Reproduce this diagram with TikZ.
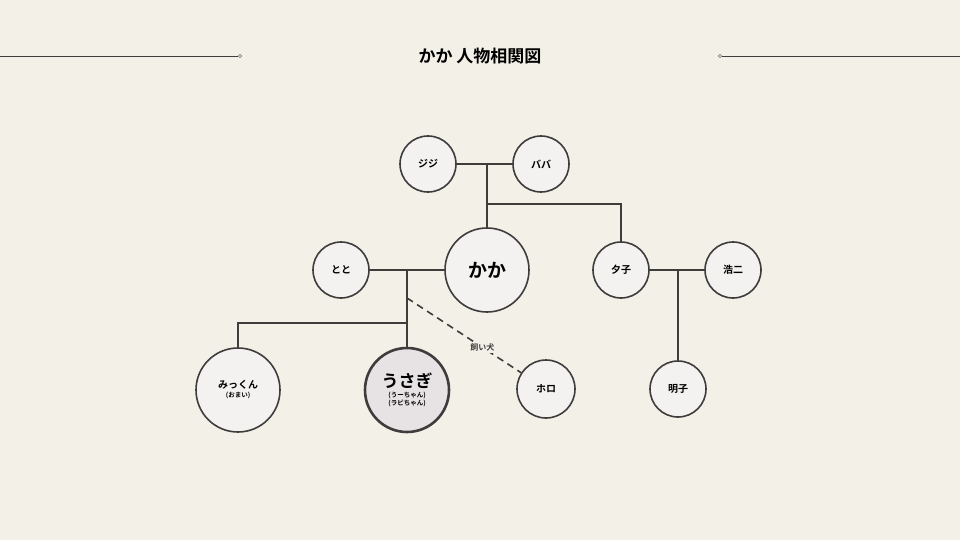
\documentclass[tikz,border=0pt]{standalone}
\usepackage{fontspec}
\setmainfont{Noto Sans CJK JP}[BoldFont={Noto Sans CJK JP Bold}]
\definecolor{bg}{HTML}{F3F0E8}
\definecolor{ln}{HTML}{3F3D3C}
\definecolor{nf}{HTML}{F4F2F1}
\definecolor{hf}{HTML}{E7E3E4}
\begin{document}
\begin{tikzpicture}[x=1pt,y=-1pt,
  p/.style={circle,draw=ln,line width=1.6pt,fill=nf,inner sep=0pt,font=\bfseries\fontsize{10}{12}\selectfont,align=center},
  c/.style={draw=ln,line width=2pt}]
\fill[bg] (0,0) rectangle (960,540);
\useasboundingbox (0,0) rectangle (960,540);
\node[font=\bfseries\fontsize{17}{20}\selectfont] (title) at (480,56) {かか 人物相関図};
\coordinate (l0) at (0,56); \node[circle,draw=ln,inner sep=1.2pt,fill=bg] (l1) at (240,56) {};
\draw[ln,line width=0.8pt] (l0) -- (l1);
\coordinate (r1) at (960,56); \node[circle,draw=ln,inner sep=1.2pt,fill=bg] (r0) at (720,56) {};
\draw[ln,line width=0.8pt] (r0) -- (r1);
% links first
\coordinate (gb) at (487,164); \coordinate (yk) at (621,204); \coordinate (yb) at (487,204);
\coordinate (tk) at (407,270); \coordinate (uj) at (407,323); \coordinate (mj) at (238,323);
\coordinate (yh) at (678,270); \coordinate (ds) at (407,298);
\node[p,minimum size=56pt] (jj) at (428,164) {ジジ};
\node[p,minimum size=56pt] (bb) at (541,164) {ババ};
\node[p,minimum size=84pt,font=\bfseries\fontsize{19}{22}\selectfont] (kk) at (487,270) {かか};
\node[p,minimum size=56pt] (yu) at (621,270) {夕子};
\node[p,minimum size=56pt] (ko) at (733,270) {浩二};
\node[p,minimum size=56pt] (ak) at (678,389) {明子};
\node[p,minimum size=56pt] (tt) at (341,270) {とと};
\node[p,minimum size=84pt] (mk) at (238,390) {みっくん\\[-3pt]{\fontsize{6.5}{8}\selectfont (おまい)}};
\node[p,minimum size=84pt,fill=hf,line width=2.6pt] (us) at (407,390) {{\fontsize{17}{19}\selectfont うさぎ}\\[-2pt]{\fontsize{6.5}{8}\selectfont (うーちゃん)}\\[-4pt]{\fontsize{6.5}{8}\selectfont (ラビちゃん)}};
\node[p,minimum size=58pt] (ho) at (546,389) {ホロ};
\draw[c] (jj) -- (bb);
\draw[c] (gb) -- (kk);
\draw[c] (yb) -- (yk) -- (yu);
\draw[c] (yu) -- (ko);
\draw[c] (yh) -- (ak);
\draw[c] (tt) -- (kk);
\draw[c] (tk) -- (us);
\draw[c] (uj) -- (mj) -- (mk);
\draw[ln,line width=1.6pt,dash pattern=on 7pt off 5pt] (ds) -- (ho)
  node[pos=0.66,fill=bg,inner sep=2pt,font=\bfseries\fontsize{8}{10}\selectfont,text=ln] (lb) {飼い犬};
\end{tikzpicture}
\end{document}
